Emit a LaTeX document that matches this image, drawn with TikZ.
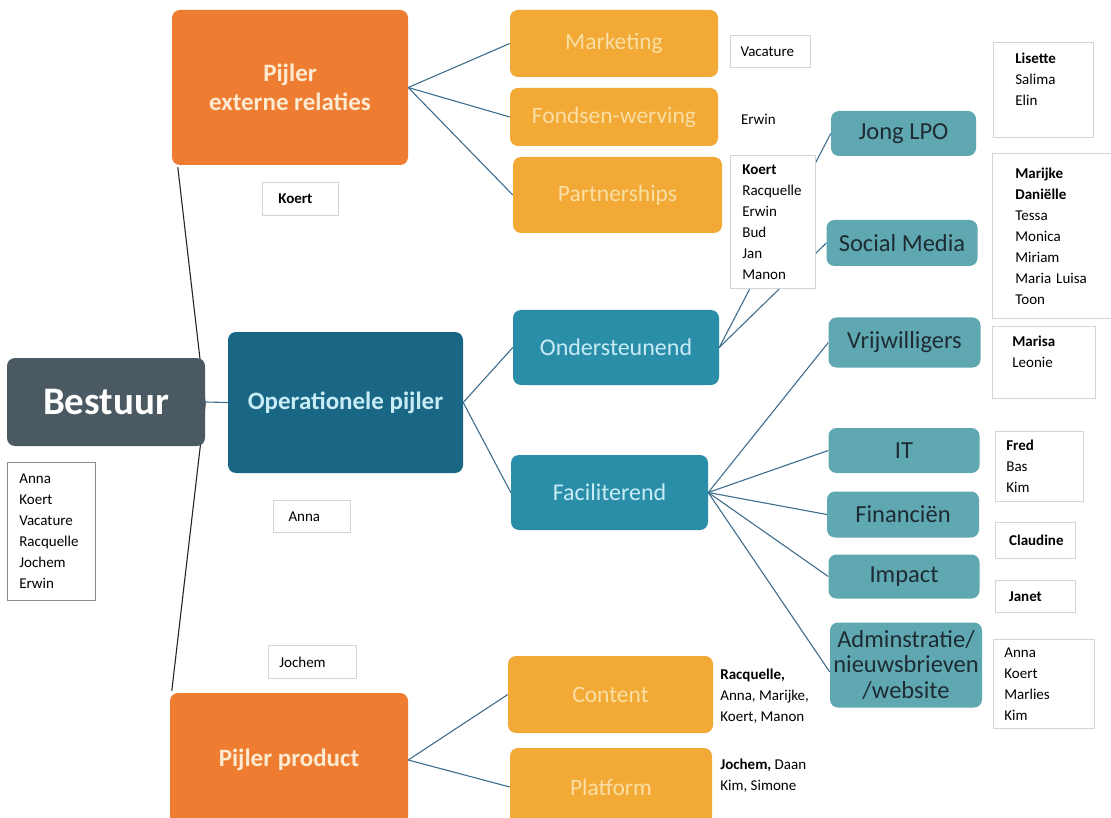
\documentclass[tikz,border=0pt]{standalone}
\usepackage{fontspec}
\setmainfont{Carlito}
\usetikzlibrary{backgrounds}
\definecolor{pOrange}{HTML}{EE7C31}
\definecolor{gold}{HTML}{F2A936}
\definecolor{slate}{HTML}{4B5A62}
\definecolor{darkteal}{HTML}{1A6785}
\definecolor{midteal}{HTML}{2A8EA9}
\definecolor{lteal}{HTML}{5FA8B2}
\definecolor{cream}{HTML}{FCEBD2}
\definecolor{goldtext}{HTML}{FADFA4}
\definecolor{iceblue}{HTML}{C8ECF6}
\definecolor{darktext}{HTML}{1F2B33}
\definecolor{linecol}{HTML}{3F6E8C}
\definecolor{lgray}{HTML}{D4D4D4}
\definecolor{mgray}{HTML}{8A8A8A}
\begin{document}
\begin{tikzpicture}[x=1pt,y=-1pt,
  box/.style={rectangle, rounded corners=8pt, inner sep=0pt, align=center},
  bigorange/.style={box, fill=pOrange, text=cream, font=\fontsize{25}{29}\selectfont\bfseries},
  goldbox/.style={box, fill=gold, text=goldtext, font=\fontsize{23.5}{27}\selectfont},
  bestbox/.style={box, fill=slate, text=white, font=\fontsize{39}{44}\selectfont\bfseries},
  operbox/.style={box, fill=darkteal, text=iceblue, font=\fontsize{25}{29}\selectfont\bfseries},
  midbox/.style={box, fill=midteal, text=iceblue, font=\fontsize{24}{28}\selectfont},
  ltbox/.style={box, fill=lteal, text=darktext, font=\fontsize{24.5}{25.5}\selectfont},
  listbox/.style={rectangle, draw=lgray, line width=0.7pt, fill=white, align=left, text=black,
     font=\fontsize{15}{21}\selectfont, inner ysep=0pt, anchor=north west},
  namebox/.style={rectangle, draw=lgray, line width=0.7pt, fill=white, text=black,
     font=\fontsize{15}{18}\selectfont, inner sep=0pt, anchor=north west, align=left},
  conn/.style={draw=linecol, line width=1.1pt},
  spine/.style={draw=black!85, line width=1.1pt}
]
\clip (0,0) rectangle (1111,818);

% ---- main pillars ----
\node[bigorange, minimum width=236, minimum height=155] (per) at (290,87.5) {Pijler\\externe relaties};
\node[bestbox, minimum width=198, minimum height=88] (best) at (106,402) {Bestuur};
\node[operbox, minimum width=235, minimum height=141] (oper) at (345.5,402.5) {Operationele pijler};
\node[bigorange, minimum width=238, minimum height=134] (prod) at (289,760) {Pijler product};

% ---- gold sub boxes ----
\node[goldbox, minimum width=208, minimum height=67] (mkt) at (614,43.5) {Marketing};
\node[goldbox, minimum width=208, minimum height=58] (fonds) at (614,117) {Fondsen-werving};
\node[goldbox, minimum width=209, minimum height=76] (partn) at (617.5,195) {Partnerships};
\node[goldbox, minimum width=205, minimum height=77] (cont) at (610.5,694.5) {Content};
\node[goldbox, minimum width=202, minimum height=78] (plat) at (611,787) {Platform};

% ---- teal sub boxes ----
\node[midbox, minimum width=206, minimum height=75] (onder) at (616,347.5) {Ondersteunend};
\node[midbox, minimum width=197, minimum height=75] (facil) at (609.5,492.5) {Faciliterend};

\node[ltbox, minimum width=145, minimum height=45] (jong) at (903.5,133.5) {Jong LPO};
\node[ltbox, minimum width=151, minimum height=46] (soc) at (902,243) {Social Media};
\node[ltbox, minimum width=152, minimum height=50] (vrij) at (904.5,342.5) {Vrijwilligers};
\node[ltbox, minimum width=151, minimum height=45] (it) at (904,450.5) {IT};
\node[ltbox, minimum width=152, minimum height=46] (fin) at (903,514.5) {Financiën};
\node[ltbox, minimum width=151, minimum height=44] (imp) at (904,576.5) {Impact};
\node[ltbox, minimum width=152, minimum height=85] (adm) at (906,665) {Adminstratie/\\nieuwsbrieven\\/website};

% ---- name boxes ----
\node[namebox, minimum width=76, minimum height=33] (koert) at (262,182) {\hspace*{14pt}\textbf{Koert}\hspace*{24pt}};
\node[namebox, minimum width=77, minimum height=32] (anna) at (273,500) {\hspace*{14pt}Anna\hspace*{29pt}};
\node[namebox, minimum width=87, minimum height=33] (jochem) at (268,645) {\hspace*{11pt}Jochem\hspace*{31pt}};
\node[namebox, minimum width=80, minimum height=32] (vac) at (730,35) {\hspace*{8pt}Vacature\hspace*{14pt}};
\node[namebox, draw=white, minimum width=80, minimum height=33] (erwin) at (730,102) {\hspace*{10pt}Erwin\hspace*{34pt}};
\node[namebox, minimum width=80, minimum height=36] (claud) at (995,522) {\hspace*{10pt}\textbf{Claudine}\hspace*{8pt}};
\node[namebox, minimum width=80, minimum height=32] (janet) at (995,580) {\hspace*{10pt}\textbf{Janet}\hspace*{30pt}};

% ---- list boxes ----
\node[listbox, inner xsep=12pt, text width=61pt, minimum height=133] (plist) at (730,155)
  {\textbf{Koert}\\Racquelle\\Erwin\\Bud\\Jan\\Manon};
\node[listbox, inner xsep=22pt, text width=56pt, minimum height=95] (lis) at (993,42)
  {\textbf{Lisette}\\Salima\\Elin\\\mbox{}};
\node[listbox, inner xsep=23pt, text width=100pt, minimum height=165] (mar) at (992,153)
  {\textbf{Marijke}\\\textbf{Daniëlle}\\Tessa\\Monica\\Miriam\\Maria Luisa\\Toon};
\node[listbox, draw=mgray, inner xsep=12pt, text width=64pt, minimum height=138] (blist) at (7,462)
  {Anna\\Koert\\Vacature\\Racquelle\\Jochem\\Erwin};
\node[listbox, inner xsep=20pt, text width=63pt, minimum height=72] (marisa) at (992,326)
  {\textbf{Marisa}\\Leonie\\\mbox{}};
\node[listbox, inner xsep=11pt, text width=66pt, minimum height=70] (fred) at (995,431)
  {\textbf{Fred}\\Bas\\Kim};
\node[listbox, inner xsep=11pt, text width=79pt, minimum height=89] (alist) at (993,639)
  {Anna\\Koert\\Marlies\\Kim};
\node[listbox, draw=white, inner xsep=5pt, minimum height=72] (clist) at (715,660)
  {\textbf{Racquelle,}\\Anna, Marijke,\\Koert, Manon};
\node[listbox, draw=white, inner xsep=5pt, minimum height=60] (pflist) at (715,745)
  {\textbf{Jochem,} Daan\\Kim, Simone};

% ---- background and connectors ----
\begin{scope}[on background layer]
\fill[white] (0,0) rectangle (1111,818);
\draw[spine] ([yshift=-2pt]best.east) -- ([xshift=6pt,yshift=-2pt]per.south west);
\draw[spine] ([yshift=-2pt]best.east) -- ([xshift=2pt,yshift=2pt]prod.north west);
\draw[conn] (best.east) -- (oper.west);
\draw[conn] (per.east) -- (mkt.west);
\draw[conn] (per.east) -- (fonds.west);
\draw[conn] (per.east) -- (partn.west);
\draw[conn] (oper.east) -- (onder.west);
\draw[conn] (oper.east) -- (facil.west);
\draw[conn] (onder.east) -- (jong.west);
\draw[conn] (onder.east) -- (soc.west);
\draw[conn] (facil.east) -- (vrij.west);
\draw[conn] (facil.east) -- (it.west);
\draw[conn] (facil.east) -- (fin.west);
\draw[conn] (facil.east) -- (imp.west);
\draw[conn] (facil.east) -- ([yshift=-7pt]adm.west);
\draw[conn] (prod.east) -- (cont.west);
\draw[conn] (prod.east) -- (plat.west);
\end{scope}
\end{tikzpicture}
\end{document}
